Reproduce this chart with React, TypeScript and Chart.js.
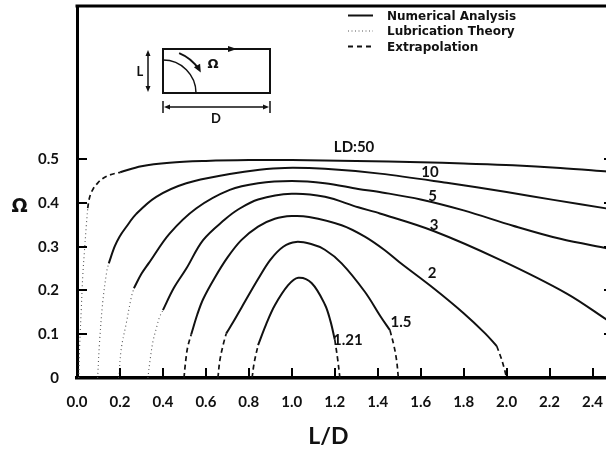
import React, { useEffect, useRef } from "react";
import { Chart, registerables } from "chart.js";

Chart.register(...registerables);

type Pt = [number, number];

// Ω against L/D for each LD value.
// Numerical = solid, Extrapolation = dashed, Lubrication = dotted.
const ld50Lubrication: Pt[] = [[0.008, 0], [0.012, 0.067], [0.02, 0.159], [0.027, 0.235], [0.035, 0.292], [0.043, 0.346], [0.05, 0.388]];
const ld50Extrapolation: Pt[] = [[0.05, 0.388], [0.055, 0.405], [0.062, 0.418], [0.075, 0.432], [0.097, 0.446], [0.12, 0.456], [0.152, 0.464], [0.201, 0.47]];
const ld50Numerical: Pt[] = [[0.201, 0.47], [0.3, 0.484], [0.431, 0.492], [0.6, 0.496], [0.8, 0.498], [1.0, 0.498], [1.3, 0.496], [1.6, 0.493], [1.8, 0.49], [2.03, 0.486], [2.25, 0.48], [2.47, 0.472]];

const ld10Lubrication: Pt[] = [[0.096, 0], [0.105, 0.082], [0.12, 0.174], [0.139, 0.245], [0.148, 0.262]];
const ld10Numerical: Pt[] = [[0.148, 0.262], [0.175, 0.3], [0.198, 0.323], [0.229, 0.345], [0.276, 0.375], [0.369, 0.414], [0.509, 0.445], [0.711, 0.466], [0.85, 0.476], [0.967, 0.48], [1.154, 0.478], [1.41, 0.467], [1.721, 0.446], [2.0, 0.425], [2.218, 0.407], [2.47, 0.387]];

const ld5Lubrication: Pt[] = [[0.195, 0], [0.206, 0.067], [0.229, 0.124], [0.253, 0.185], [0.265, 0.205]];
const ld5Numerical: Pt[] = [[0.265, 0.205], [0.3, 0.238], [0.335, 0.263], [0.431, 0.33], [0.556, 0.388], [0.711, 0.43], [0.843, 0.445], [1.0, 0.45], [1.154, 0.445], [1.309, 0.432], [1.42, 0.424], [1.6, 0.408], [1.8, 0.383], [2.03, 0.348], [2.25, 0.318], [2.47, 0.296]];

const ld3Lubrication: Pt[] = [[0.33, 0], [0.34, 0.04], [0.353, 0.082], [0.37, 0.115], [0.385, 0.14], [0.4, 0.155]];
const ld3Numerical: Pt[] = [[0.4, 0.155], [0.45, 0.205], [0.509, 0.25], [0.587, 0.315], [0.688, 0.362], [0.75, 0.385], [0.843, 0.408], [1.0, 0.421], [1.154, 0.414], [1.309, 0.39], [1.41, 0.376], [1.66, 0.336], [1.97, 0.27], [2.28, 0.193], [2.47, 0.132]];

const ld2ExtrapolationLeft: Pt[] = [[0.498, 0], [0.505, 0.035], [0.515, 0.07], [0.532, 0.1]];
const ld2Numerical: Pt[] = [[0.532, 0.1], [0.56, 0.145], [0.587, 0.18], [0.64, 0.228], [0.7, 0.275], [0.765, 0.315], [0.843, 0.346], [0.921, 0.364], [1.0, 0.37], [1.08, 0.368], [1.232, 0.349], [1.34, 0.323], [1.43, 0.293], [1.5, 0.265], [1.66, 0.205], [1.8, 0.148], [1.9, 0.102], [1.954, 0.073]];
const ld2ExtrapolationRight: Pt[] = [[1.954, 0.073], [1.975, 0.045], [1.99, 0.02], [2.0, 0]];

const ld15ExtrapolationLeft: Pt[] = [[0.656, 0], [0.665, 0.04], [0.68, 0.075], [0.695, 0.102]];
const ld15Numerical: Pt[] = [[0.695, 0.102], [0.73, 0.13], [0.765, 0.16], [0.843, 0.226], [0.9, 0.27], [0.96, 0.3], [1.02, 0.311], [1.09, 0.306], [1.154, 0.293], [1.232, 0.262], [1.34, 0.197], [1.414, 0.14], [1.457, 0.109]];
const ld15ExtrapolationRight: Pt[] = [[1.457, 0.109], [1.475, 0.075], [1.488, 0.04], [1.496, 0]];

const ld121ExtrapolationLeft: Pt[] = [[0.815, 0], [0.825, 0.035], [0.843, 0.075]];
const ld121Numerical: Pt[] = [[0.843, 0.075], [0.88, 0.122], [0.921, 0.166], [0.983, 0.212], [1.03, 0.229], [1.092, 0.217], [1.154, 0.168], [1.18, 0.13], [1.2, 0.088]];
const ld121ExtrapolationRight: Pt[] = [[1.2, 0.088], [1.213, 0.045], [1.224, 0]];

// Axis ticks
const xTickValues = [0, 0.2, 0.4, 0.6, 0.8, 1.0, 1.2, 1.4, 1.6, 1.8, 2.0, 2.2, 2.4];
const xTickLabels = ["0.0", "0.2", "0.4", "0.6", "0.8", "1.0", "1.2", "1.4", "1.6", "1.8", "2.0", "2.2", "2.4"];
const yTickValues = [0, 0.1, 0.2, 0.3, 0.4, 0.5];
const yTickLabels = ["0", "0.1", "0.2", "0.3", "0.4", "0.5"];

// Curve labels placed in data coordinates
const curveLabels = ["LD:50", "10", "5", "3", "2", "1.5", "1.21"];
const curveLabelX = [1.29, 1.643, 1.655, 1.662, 1.653, 1.508, 1.261];
const curveLabelY = [0.53, 0.471, 0.416, 0.351, 0.242, 0.128, 0.089];

const legendLabels = ["Numerical Analysis", "Lubrication Theory", "Extrapolation"];

type Kind = "numerical" | "lubrication" | "extrapolation";

const STYLES: Record<Kind, { color: string; width: number; dash: number[] }> = {
  numerical: { color: "#111", width: 2, dash: [] },
  lubrication: { color: "#555", width: 1.1, dash: [1, 3] },
  extrapolation: { color: "#111", width: 1.7, dash: [5, 3.5] },
};

const segments: { kind: Kind; pts: Pt[] }[] = [
  { kind: "lubrication", pts: ld50Lubrication },
  { kind: "extrapolation", pts: ld50Extrapolation },
  { kind: "numerical", pts: ld50Numerical },
  { kind: "lubrication", pts: ld10Lubrication },
  { kind: "numerical", pts: ld10Numerical },
  { kind: "lubrication", pts: ld5Lubrication },
  { kind: "numerical", pts: ld5Numerical },
  { kind: "lubrication", pts: ld3Lubrication },
  { kind: "numerical", pts: ld3Numerical },
  { kind: "extrapolation", pts: ld2ExtrapolationLeft },
  { kind: "numerical", pts: ld2Numerical },
  { kind: "extrapolation", pts: ld2ExtrapolationRight },
  { kind: "extrapolation", pts: ld15ExtrapolationLeft },
  { kind: "numerical", pts: ld15Numerical },
  { kind: "extrapolation", pts: ld15ExtrapolationRight },
  { kind: "extrapolation", pts: ld121ExtrapolationLeft },
  { kind: "numerical", pts: ld121Numerical },
  { kind: "extrapolation", pts: ld121ExtrapolationRight },
];

const TICK_FONT = { family: "Lato, 'DejaVu Sans', sans-serif", size: 15, weight: "bold" as const };

function arrowHead(ctx: CanvasRenderingContext2D, tx: number, ty: number, angle: number, len = 7, half = 3) {
  ctx.save();
  ctx.translate(tx, ty);
  ctx.rotate(angle);
  ctx.beginPath();
  ctx.moveTo(0, 0);
  ctx.lineTo(-len, -half);
  ctx.lineTo(-len, half);
  ctx.closePath();
  ctx.fill();
  ctx.restore();
}

// Box frame on top/right plus inward tick marks on three sides
const frameTicks = {
  id: "frameTicks",
  afterDatasetsDraw(chart: Chart) {
    const { ctx, chartArea: ca } = chart;
    const xs = chart.scales.x;
    const ys = chart.scales.y;
    ctx.save();
    ctx.strokeStyle = "#000";
    ctx.lineWidth = 3;
    ctx.beginPath();
    ctx.moveTo(ca.left - 1.5, ca.top);
    ctx.lineTo(ca.right, ca.top);
    ctx.lineTo(ca.right, ca.bottom);
    ctx.stroke();

    ctx.lineWidth = 2;
    ctx.beginPath();
    for (const v of xTickValues) {
      if (v === 0) continue;
      const px = Math.round(xs.getPixelForValue(v));
      ctx.moveTo(px, ca.bottom);
      ctx.lineTo(px, ca.bottom - 10);
    }
    for (const v of yTickValues) {
      if (v === 0) continue;
      const py = Math.round(ys.getPixelForValue(v));
      ctx.moveTo(ca.left, py);
      ctx.lineTo(ca.left + 10, py);
      ctx.moveTo(ca.right, py);
      ctx.lineTo(ca.right - 10, py);
    }
    ctx.stroke();
    ctx.restore();
  },
};

// Curve labels, axis titles, legend and the cavity sketch
const annotations = {
  id: "annotations",
  afterDraw(chart: Chart) {
    const { ctx, chartArea: ca } = chart;
    const xs = chart.scales.x;
    const ys = chart.scales.y;
    ctx.save();
    ctx.fillStyle = "#111";
    ctx.strokeStyle = "#111";

    // curve labels
    ctx.font = "bold 15px Lato, 'DejaVu Sans', sans-serif";
    ctx.textAlign = "center";
    ctx.textBaseline = "alphabetic";
    curveLabels.forEach((t, i) => {
      ctx.fillText(t, xs.getPixelForValue(curveLabelX[i]), ys.getPixelForValue(curveLabelY[i]) + 5.5);
    });

    // axis titles
    ctx.font = "bold 19px 'DejaVu Sans', sans-serif";
    ctx.fillText("Ω", ca.left - 57.5, ys.getPixelForValue(0.4) + 9);
    ctx.font = "bold 23px Lato, 'DejaVu Sans', sans-serif";
    ctx.fillText("L/D", xs.getPixelForValue(1.17), 444);

    // legend
    const lx0 = ca.left + 271;
    const lx1 = ca.left + 296;
    const tx = ca.left + 310;
    const rows = [ca.top + 9, ca.top + 24.5, ca.top + 40];
    const kinds: Kind[] = ["numerical", "lubrication", "extrapolation"];
    ctx.font = "bold 12px 'DejaVu Sans', sans-serif";
    ctx.textAlign = "left";
    kinds.forEach((k, i) => {
      const st = STYLES[k];
      ctx.save();
      ctx.strokeStyle = st.color;
      ctx.lineWidth = k === "lubrication" ? 1 : 2;
      ctx.setLineDash(k === "lubrication" ? [1, 2.5] : k === "extrapolation" ? [5, 4] : []);
      ctx.beginPath();
      ctx.moveTo(lx0, rows[i] + 0.5);
      ctx.lineTo(lx1, rows[i] + 0.5);
      ctx.stroke();
      ctx.restore();
      ctx.fillText(legendLabels[i], tx, rows[i] + 4.5);
    });

    // cavity sketch
    const rx = ca.left + 86;
    const ry = ca.top + 43;
    const rw = 107;
    const rh = 44;
    ctx.lineWidth = 2;
    ctx.strokeRect(rx, ry, rw, rh);
    arrowHead(ctx, rx + 74, ry, 0, 9, 3);

    ctx.lineWidth = 1.5;
    ctx.beginPath();
    ctx.arc(rx, ry + rh, 33, -Math.PI / 2, 0);
    ctx.stroke();

    const a0 = (-68 * Math.PI) / 180;
    const a1 = (-33 * Math.PI) / 180;
    const R = 43;
    ctx.lineWidth = 2;
    ctx.beginPath();
    ctx.arc(rx, ry + rh, R, a0, a1);
    ctx.stroke();
    const ex = rx + R * Math.cos(a1 + 0.08);
    const ey = ry + rh + R * Math.sin(a1 + 0.08);
    arrowHead(ctx, ex, ey, a1 + Math.PI / 2 + 0.08, 8, 3.5);

    ctx.font = "bold 13px 'DejaVu Sans', sans-serif";
    ctx.textAlign = "center";
    ctx.fillText("Ω", rx + 50, ry + 19);

    // L dimension
    const lxA = rx - 15;
    ctx.lineWidth = 1.5;
    ctx.beginPath();
    ctx.moveTo(lxA, ry + 4);
    ctx.lineTo(lxA, ry + rh - 4);
    ctx.stroke();
    arrowHead(ctx, lxA, ry + 1, -Math.PI / 2, 6, 2.5);
    arrowHead(ctx, lxA, ry + rh - 1, Math.PI / 2, 6, 2.5);
    ctx.font = "bold 13px Lato, 'DejaVu Sans', sans-serif";
    ctx.fillText("L", rx - 23, ry + 27);

    // D dimension
    const dy = ry + rh + 14;
    ctx.beginPath();
    ctx.moveTo(rx + 4, dy);
    ctx.lineTo(rx + rw - 4, dy);
    ctx.moveTo(rx, dy - 6);
    ctx.lineTo(rx, dy + 6);
    ctx.moveTo(rx + rw, dy - 6);
    ctx.lineTo(rx + rw, dy + 6);
    ctx.stroke();
    arrowHead(ctx, rx + 1, dy, Math.PI, 6, 2.5);
    arrowHead(ctx, rx + rw - 1, dy, 0, 6, 2.5);
    ctx.fillText("D", rx + 53, dy + 16);

    ctx.restore();
  },
};

export default function App() {
  const canvasRef = useRef<HTMLCanvasElement | null>(null);

  useEffect(() => {
    const canvas = canvasRef.current;
    if (!canvas) return;
    const datasets = segments.map((s) => ({
      type: "line" as const,
      data: s.pts.map(([x, y]) => ({ x, y })),
      borderColor: STYLES[s.kind].color,
      borderWidth: STYLES[s.kind].width,
      borderDash: STYLES[s.kind].dash,
      pointRadius: 0,
      fill: false,
      tension: 0.35,
    }));

    const chart = new Chart(canvas, {
      type: "line",
      data: { datasets },
      options: {
        responsive: false,
        animation: false,
        layout: { padding: { left: 0, right: 2, top: 6, bottom: 0 } },
        plugins: {
          legend: { display: false },
          tooltip: { enabled: false },
          title: { display: false },
        },
        scales: {
          x: {
            type: "linear",
            min: 0,
            max: 2.5,
            grid: { display: false },
            border: { display: true, width: 3.5, color: "#000" },
            afterBuildTicks: (s: any) => {
              s.ticks = xTickValues.map((v) => ({ value: v }));
            },
            afterFit: (s: any) => {
              s.height = 71;
              s.paddingLeft = 0;
              s.paddingRight = 0;
            },
            ticks: {
              autoSkip: false,
              maxRotation: 0,
              padding: 7,
              color: "#111",
              font: TICK_FONT,
              callback: (_v: any, i: number) => xTickLabels[i],
            },
          },
          y: {
            type: "linear",
            min: 0,
            max: 0.85,
            grid: { display: false },
            border: { display: true, width: 3, color: "#000" },
            afterBuildTicks: (s: any) => {
              s.ticks = yTickValues.map((v) => ({ value: v }));
            },
            afterFit: (s: any) => {
              s.width = 77;
              s.paddingTop = 0;
              s.paddingBottom = 0;
            },
            ticks: {
              autoSkip: false,
              padding: 10,
              color: "#111",
              font: TICK_FONT,
              callback: (_v: any, i: number) => yTickLabels[i],
            },
          },
        },
      },
      plugins: [frameTicks, annotations],
    });
    return () => chart.destroy();
  }, []);

  return (
    <div
      style={{
        position: "absolute",
        left: 0,
        top: 0,
        width: 606,
        height: 449,
        overflow: "hidden",
        background: "#fff",
      }}
    >
      <canvas ref={canvasRef} width={616} height={449} style={{ display: "block" }} />
    </div>
  );
}
